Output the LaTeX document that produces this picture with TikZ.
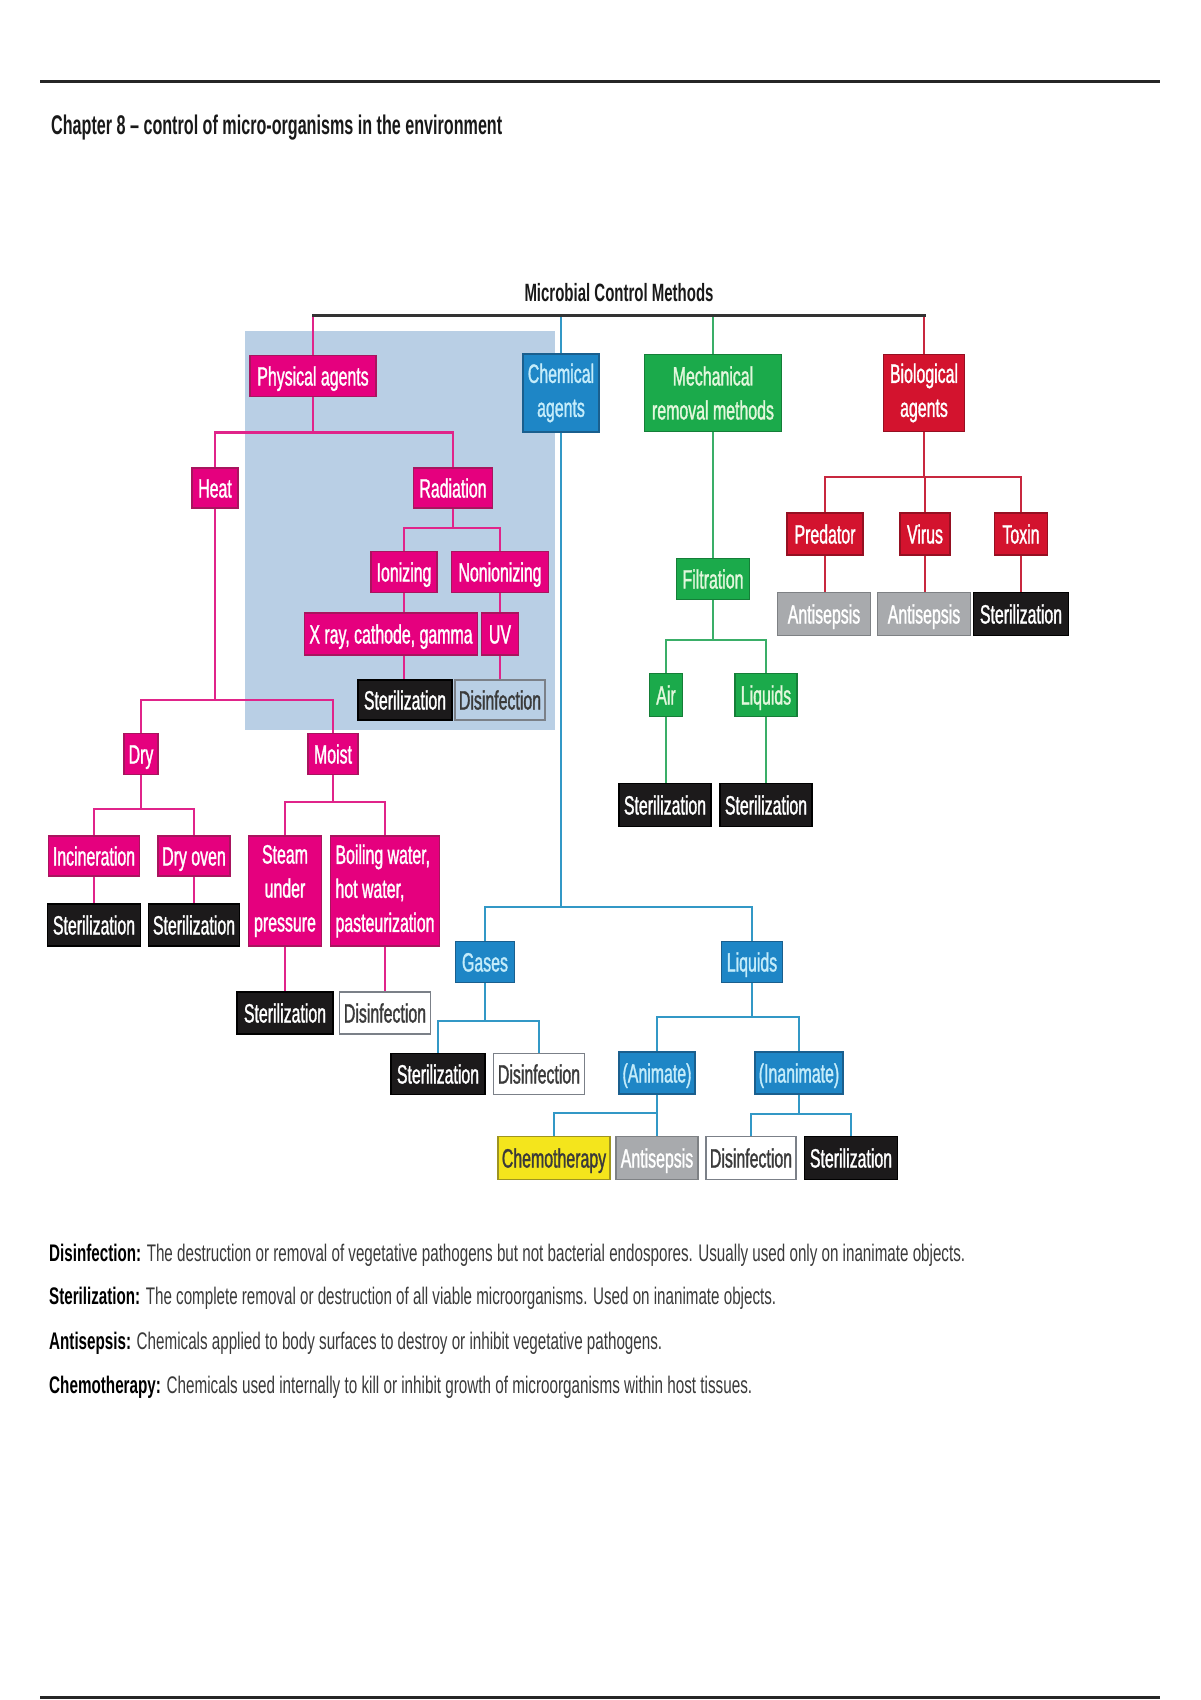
\documentclass[tikz,border=0pt]{standalone}
\usepackage{fontspec}
\setmainfont[FakeStretch=0.6]{Liberation Sans}
\newfontfamily\boxf[FakeStretch=0.6,FakeBold=1.2]{Liberation Sans}
\usepackage{graphicx}
\definecolor{magC}{HTML}{E5007E}
\definecolor{magD}{HTML}{A8155E}
\definecolor{magL}{HTML}{E0248A}
\definecolor{bluC}{HTML}{1E86C6}
\definecolor{bluD}{HTML}{1A5F8E}
\definecolor{bluL}{HTML}{3298C6}
\definecolor{bluT}{HTML}{C4ECFA}
\definecolor{grnC}{HTML}{1BAA4B}
\definecolor{grnD}{HTML}{157E38}
\definecolor{grnL}{HTML}{3AAE68}
\definecolor{grnT}{HTML}{E2F7DC}
\definecolor{redC}{HTML}{D3132E}
\definecolor{redD}{HTML}{951022}
\definecolor{redL}{HTML}{C8283F}
\definecolor{bgBlue}{HTML}{B9CFE5}
\definecolor{blkC}{HTML}{1C1A1B}
\definecolor{gryC}{HTML}{A8AAAD}
\definecolor{gryD}{HTML}{7E8184}
\definecolor{disD}{HTML}{7B8088}
\definecolor{yelC}{HTML}{F4E51C}
\definecolor{yelD}{HTML}{9E9420}
\definecolor{txtD}{HTML}{3A3A3A}
\begin{document}
\begin{tikzpicture}[x=1pt,y=-1pt,
  box/.style={inner sep=0pt, line width=1.3pt, align=center,
    font=\boxf\fontsize{26.5}{34}\selectfont},
  one/.style={text height=19pt, text depth=0pt},
  mag/.style={box, fill=magC, draw=magD, text=white},
  blu/.style={box, fill=bluC, draw=bluD, text=bluT},
  grn/.style={box, fill=grnC, draw=grnD, text=grnT},
  red/.style={box, fill=redC, draw=redD, text=white},
  ster/.style={box, one, fill=blkC, draw=black, text=white},
  anti/.style={box, one, fill=gryC, draw=gryD, text=white},
  disf/.style={box, one, draw=disD, text=txtD},
  chemo/.style={box, one, fill=yelC, draw=yelD, text=txtD},
  wh/.style={minimum width=#1},
  ht/.style={minimum height=#1},
  mline/.style={line width=2.5pt, magL},
  bline/.style={line width=2.5pt, bluL},
  gline/.style={line width=2.5pt, grnL},
  rline/.style={line width=2.5pt, redL},
  kline/.style={line width=3pt, black!80},
  deftext/.style={anchor=base west, inner sep=0pt, text=txtD,
    font=\fontsize{24}{28}\selectfont}
]
\fill[white] (0,0) rectangle (1200,1700);
\useasboundingbox (0,0) rectangle (1200,1700);

% rules
\draw[line width=3pt, black!85] (40,81) -- (1160,81);
\draw[line width=3pt, black!85] (40,1697) -- (1160,1697);

% title
\node[anchor=base west, inner sep=0pt, text=black!90,
  font=\fontsize{27}{32}\selectfont\bfseries] (title) at (51,134)
  {\resizebox{451pt}{\height}{Chapter 8 – control of micro-organisms in the environment}};

% blue background
\fill[bgBlue] (245,331) rectangle (555,730);

\node[inner sep=0pt, text=black!90, text height=18pt, text depth=0pt,
  font=\fontsize{25}{30}\selectfont\bfseries] (mcm) at (619,292)
  {\resizebox{189pt}{\height}{Microbial Control Methods}};

% level 1
\node[mag, one, wh=126pt, ht=41pt] (phys) at (313,376) {Physical agents};
\node[blu, wh=76pt, ht=78pt] (chem) at (561,393) {Chemical\\agents};
\node[grn, wh=137pt, ht=77pt] (mech) at (713,393) {Mechanical\\removal methods};
\node[red, wh=81pt, ht=77pt] (bio) at (924,393) {Biological\\agents};

% physical
\node[mag, one, wh=46pt, ht=40pt] (heat) at (215,488) {Heat};
\node[mag, one, wh=79pt, ht=40pt] (rad) at (453,488) {Radiation};
\node[mag, one, wh=66pt, ht=41pt] (ion) at (404,572) {Ionizing};
\node[mag, one, wh=97pt, ht=41pt] (nonion) at (500,572) {Nonionizing};
\node[mag, one, wh=173pt, ht=42pt] (xray) at (391,634) {X ray, cathode, gamma};
\node[mag, one, wh=37pt, ht=42pt] (uv) at (500,634) {UV};
\node[ster, wh=94pt, ht=40pt] (sterR) at (405,700) {Sterilization};
\node[disf, wh=90pt, ht=40pt] (disR) at (500,700) {Disinfection};
\node[mag, one, wh=34pt, ht=41pt] (dry) at (141,754) {Dry};
\node[mag, one, wh=50pt, ht=41pt] (moist) at (333,754) {Moist};
\node[mag, one, wh=91pt, ht=40pt] (incin) at (94,856) {Incineration};
\node[mag, one, wh=72pt, ht=40pt] (oven) at (194,856) {Dry oven};
\node[ster, wh=93pt, ht=42pt] (sterI) at (94,925) {Sterilization};
\node[ster, wh=91pt, ht=42pt] (sterO) at (194,925) {Sterilization};
\node[mag, wh=73pt, ht=110pt] (steam) at (285,891) {Steam\\under\\pressure};
\node[mag, wh=109pt, ht=110pt, align=left] (boil) at (385,891) {Boiling water,\\hot water,\\pasteurization};
\node[ster, wh=96pt, ht=42pt] (sterS) at (285,1013) {Sterilization};
\node[disf, wh=91pt, ht=42pt] (disB) at (385,1013) {Disinfection};

% chemical
\node[blu, one, wh=59pt, ht=41pt] (gases) at (485,962) {Gases};
\node[blu, one, wh=61pt, ht=41pt] (liqC) at (752,962) {Liquids};
\node[ster, wh=94pt, ht=41pt] (sterG) at (438,1074) {Sterilization};
\node[disf, wh=91pt, ht=41pt] (disG) at (539,1074) {Disinfection};
\node[blu, one, wh=76pt, ht=42pt] (anim) at (657,1073) {(Animate)};
\node[blu, one, wh=88pt, ht=42pt] (inan) at (799,1073) {(Inanimate)};
\node[chemo, wh=112pt, ht=43pt] (chemo) at (554,1158) {Chemotherapy};
\node[anti, wh=82pt, ht=43pt] (antiA) at (657,1158) {Antisepsis};
\node[disf, wh=90pt, ht=43pt] (disN) at (751,1158) {Disinfection};
\node[ster, wh=93pt, ht=43pt] (sterN) at (851,1158) {Sterilization};

% mechanical
\node[grn, one, wh=73pt, ht=41pt] (filt) at (713,579) {Filtration};
\node[grn, one, wh=33pt, ht=43pt] (air) at (666,695) {Air};
\node[grn, one, wh=62pt, ht=43pt] (liqM) at (766,695) {Liquids};
\node[ster, wh=92pt, ht=43pt] (sterAir) at (665,805) {Sterilization};
\node[ster, wh=92pt, ht=43pt] (sterLiq) at (766,805) {Sterilization};

% biological
\node[red, one, wh=76pt, ht=42pt] (pred) at (825,534) {Predator};
\node[red, one, wh=50pt, ht=42pt] (virus) at (925,534) {Virus};
\node[red, one, wh=53pt, ht=42pt] (toxin) at (1021,534) {Toxin};
\node[anti, wh=93pt, ht=43pt] (antiP) at (824,614) {Antisepsis};
\node[anti, wh=93pt, ht=43pt] (antiV) at (924,614) {Antisepsis};
\node[ster, wh=95pt, ht=43pt] (sterT) at (1021,614) {Sterilization};

% bar levels
\coordinate (topbar) at (0,315.5);
\coordinate (pbar) at (0,432.5);
\coordinate (rbar) at (0,528);
\coordinate (hbar) at (0,700);
\coordinate (dbar) at (0,809);
\coordinate (mbar) at (0,802);
\coordinate (cbar) at (0,907);
\coordinate (gbar) at (0,1021);
\coordinate (lbar) at (0,1017);
\coordinate (abar) at (0,1113);
\coordinate (ibar) at (0,1114);
\coordinate (fbar) at (0,640);
\coordinate (bbar) at (0,477);

% top connectors
\draw[mline] (phys.north) -- (phys.north |- topbar);
\draw[bline] (chem.north) -- (chem.north |- topbar);
\draw[gline] (mech.north) -- (mech.north |- topbar);
\draw[rline] (bio.north) -- (bio.north |- topbar);
\draw[kline, line cap=rect] (phys.north |- topbar) -- (bio.north |- topbar);

% physical connectors
\draw[mline] (phys.south) -- (phys.south |- pbar);
\draw[mline] (heat.north) -- (heat.north |- pbar) -- (rad.north |- pbar) -- (rad.north);
\draw[mline] (rad.south) -- (rad.south |- rbar);
\draw[mline] (ion.north) -- (ion.north |- rbar) -- (nonion.north |- rbar) -- (nonion.north);
\draw[mline] (ion.south) -- (ion.south |- xray.north);
\draw[mline] (nonion.south) -- (nonion.south |- uv.north);
\draw[mline] (ion.south |- xray.south) -- (ion.south |- sterR.north);
\draw[mline] (nonion.south |- uv.south) -- (nonion.south |- disR.north);
\draw[mline] (heat.south) -- (heat.south |- hbar);
\draw[mline] (dry.north) -- (dry.north |- hbar) -- (moist.north |- hbar) -- (moist.north);
\draw[mline] (dry.south) -- (dry.south |- dbar);
\draw[mline] (incin.north) -- (incin.north |- dbar) -- (oven.north |- dbar) -- (oven.north);
\draw[mline] (incin.south) -- (incin.south |- sterI.north);
\draw[mline] (oven.south) -- (oven.south |- sterO.north);
\draw[mline] (moist.south) -- (moist.south |- mbar);
\draw[mline] (steam.north) -- (steam.north |- mbar) -- (boil.north |- mbar) -- (boil.north);
\draw[mline] (steam.south) -- (steam.south |- sterS.north);
\draw[mline] (boil.south) -- (boil.south |- disB.north);

% chemical connectors
\draw[bline] (chem.south) -- (chem.south |- cbar);
\draw[bline] (gases.north) -- (gases.north |- cbar) -- (liqC.north |- cbar) -- (liqC.north);
\draw[bline] (gases.south) -- (gases.south |- gbar);
\draw[bline] (sterG.north) -- (sterG.north |- gbar) -- (disG.north |- gbar) -- (disG.north);
\draw[bline] (liqC.south) -- (liqC.south |- lbar);
\draw[bline] (anim.north) -- (anim.north |- lbar) -- (inan.north |- lbar) -- (inan.north);
\draw[bline] (anim.south) -- (anim.south |- abar);
\draw[bline] (chemo.north) -- (chemo.north |- abar) -- (antiA.north |- abar) -- (antiA.north);
\draw[bline] (inan.south) -- (inan.south |- ibar);
\draw[bline] (disN.north) -- (disN.north |- ibar) -- (sterN.north |- ibar) -- (sterN.north);

% mechanical connectors
\draw[gline] (mech.south) -- (mech.south |- filt.north);
\draw[gline] (filt.south) -- (filt.south |- fbar);
\draw[gline] (air.north) -- (air.north |- fbar) -- (liqM.north |- fbar) -- (liqM.north);
\draw[gline] (air.south) -- (air.south |- sterAir.north);
\draw[gline] (liqM.south) -- (liqM.south |- sterLiq.north);

% biological connectors
\draw[rline] (bio.south) -- (bio.south |- bbar);
\draw[rline] (pred.north) -- (pred.north |- bbar) -- (toxin.north |- bbar) -- (toxin.north);
\draw[rline] (virus.north) -- (virus.north |- bbar);
\draw[rline] (pred.south) -- (pred.south |- antiP.north);
\draw[rline] (virus.south) -- (virus.south |- antiV.north);
\draw[rline] (toxin.south) -- (toxin.south |- sterT.north);

% definitions
\node[deftext] (def1) at (49,1261) {\resizebox{916pt}{\height}{\textbf{\color{black}Disinfection:} The destruction or removal of vegetative pathogens but not bacterial endospores. Usually used only on inanimate objects.}};
\node[deftext] (def2) at (49,1304) {\resizebox{727pt}{\height}{\textbf{\color{black}Sterilization:} The complete removal or destruction of all viable microorganisms. Used on inanimate objects.}};
\node[deftext] (def3) at (49,1349) {\resizebox{613pt}{\height}{\textbf{\color{black}Antisepsis:} Chemicals applied to body surfaces to destroy or inhibit vegetative pathogens.}};
\node[deftext] (def4) at (49,1393) {\resizebox{703pt}{\height}{\textbf{\color{black}Chemotherapy:} Chemicals used internally to kill or inhibit growth of microorganisms within host tissues.}};
\end{tikzpicture}
\end{document}
